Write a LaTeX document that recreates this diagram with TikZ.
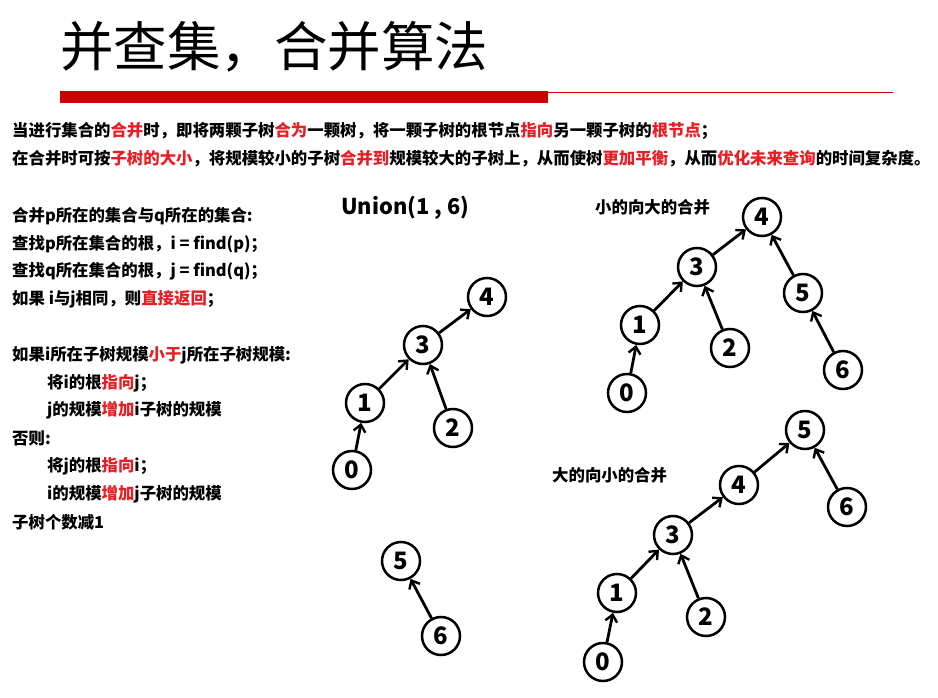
\documentclass[tikz,border=0pt]{standalone}
\usepackage{fontspec}
\setmainfont{Noto Sans CJK SC}
\usetikzlibrary{arrows.meta}
\definecolor{barred}{RGB}{204,0,0}
\definecolor{hlred}{RGB}{232,30,36}
\newcommand\rtxt[1]{\textcolor{hlred}{#1}}
\begin{document}
\begin{tikzpicture}[x=1pt,y=-1pt,
 vert/.style={circle,draw,line width=2.5pt,minimum size=38pt,inner sep=0pt,font=\fontsize{24}{24}\selectfont\bfseries},
 edge/.style={line width=2.8pt,-{Straight Barb[length=7pt,width=12pt,line width=2.4pt]}},
 txt/.style={anchor=west,inner sep=0pt,font=\fontsize{16.4}{16.4}\selectfont\bfseries}]
\useasboundingbox (0,0) rectangle (938,698);
\fill[white] (0,0) rectangle (938,698);
% title
\node[anchor=west,inner sep=0pt,font=\fontsize{53.5}{53.5}\selectfont] (title) at (60,47) {并查集，合并算法};
\fill[barred] (60,91) rectangle (548,103);
\draw[barred,line width=1.2pt] (548,92.5) -- (893,92.5);
% paragraph
\node[txt] (p1) at (12,131) {当进行集合的\rtxt{合并}时，即将两颗子树\rtxt{合为}一颗树，将一颗子树的根节点\rtxt{指向}另一颗子树的\rtxt{根节点}；};
\node[txt] (p2) at (12,159) {在合并时可按\rtxt{子树的大小}，将规模较小的子树\rtxt{合并到}规模较大的子树上，从而使树\rtxt{更加平衡}，从而\rtxt{优化未来查询}的时间复杂度。};
% left block
\node[txt] (l1) at (12,216) {合并p所在的集合与q所在的集合:};
\node[txt] (l2) at (12,244) {查找p所在集合的根，i = find(p)；};
\node[txt] (l3) at (12,271) {查找q所在集合的根，j = find(q)；};
\node[txt] (l4) at (12,299) {如果 i与j相同，则\rtxt{直接返回}；};
\node[txt] (l5) at (12,355) {如果i所在子树规模\rtxt{小于}j所在子树规模:};
\node[txt] (l6) at (47,383) {将i的根\rtxt{指向}j；};
\node[txt] (l7) at (47,410) {j的规模\rtxt{增加}i子树的规模};
\node[txt] (l8) at (12,438) {否则:};
\node[txt] (l9) at (47,466) {将j的根\rtxt{指向}i；};
\node[txt] (l10) at (47,494) {i的规模\rtxt{增加}j子树的规模};
\node[txt] (l11) at (12,522) {子树个数减1};
% labels
\node[anchor=west,inner sep=0pt,font=\fontsize{21.8}{21.8}\selectfont\bfseries] (union) at (341,208) {Union(1 , 6)};
\node[txt] (small) at (595,207) {小的向大的合并};
\node[txt] (big) at (552,475) {大的向小的合并};
% tree A
\node[vert] (a4) at (487,297) {4};
\node[vert] (a3) at (423,345) {3};
\node[vert] (a1) at (365,403) {1};
\node[vert] (a2) at (453,428) {2};
\node[vert] (a0) at (352,470) {0};
\draw[edge] (a3) -- (a4);
\draw[edge] (a1) -- (a3);
\draw[edge] (a2) -- (a3);
\draw[edge] (a0) -- (a1);
% tree B
\node[vert] (b5) at (401,561) {5};
\node[vert] (b6) at (441,636) {6};
\draw[edge] (b6) -- (b5);
% tree C (small to big)
\node[vert] (c4) at (762,217) {4};
\node[vert] (c3) at (697,267) {3};
\node[vert] (c5) at (803,293) {5};
\node[vert] (c1) at (640,325) {1};
\node[vert] (c2) at (730,348) {2};
\node[vert] (c6) at (843,370) {6};
\node[vert] (c0) at (627,393) {0};
\draw[edge] (c3) -- (c4);
\draw[edge] (c5) -- (c4);
\draw[edge] (c1) -- (c3);
\draw[edge] (c2) -- (c3);
\draw[edge] (c6) -- (c5);
\draw[edge] (c0) -- (c1);
% tree D (big to small)
\node[vert] (d5) at (805,430) {5};
\node[vert] (d4) at (739,485) {4};
\node[vert] (d6) at (847,507) {6};
\node[vert] (d3) at (673,535) {3};
\node[vert] (d1) at (617,593) {1};
\node[vert] (d2) at (706,617) {2};
\node[vert] (d0) at (603,662) {0};
\draw[edge] (d4) -- (d5);
\draw[edge] (d6) -- (d5);
\draw[edge] (d3) -- (d4);
\draw[edge] (d1) -- (d3);
\draw[edge] (d2) -- (d3);
\draw[edge] (d0) -- (d1);
\end{tikzpicture}
\end{document}
